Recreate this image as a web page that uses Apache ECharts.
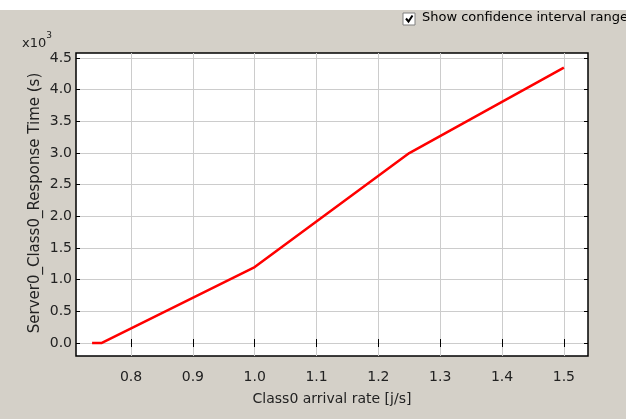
<!DOCTYPE html>
<html>
<head>
<meta charset="utf-8">
<script src="https://cdn.jsdelivr.net/npm/echarts@6/dist/echarts.min.js"></script>
<style>
  html, body { margin: 0; padding: 0; background: #fff; }
  #chart { width: 626px; height: 419px; }
</style>
</head>
<body>
<div id="chart"></div>
<script>
// arrival rate (j/s) and response time (x10^3 s)
var arrivalRate = [0.737, 0.752, 1.0, 1.25, 1.5];
var responseTime = [0.0, 0.0, 1.2, 3.0, 4.35];

// tick values
var xTicks = [0.8, 0.9, 1.0, 1.1, 1.2, 1.3, 1.4, 1.5];
var yTicks = [0.0, 0.5, 1.0, 1.5, 2.0, 2.5, 3.0, 3.5, 4.0, 4.5];

var xTitle = 'Class0 arrival rate [j/s]';
var yTitle = 'Server0_Class0_Response Time (s)';
var checkText = 'Show confidence interval range';

var xMin = 0.711, xMax = 1.539;
var yMin = -0.205, yMax = 4.58;

var points = arrivalRate.map(function (x, i) { return [x, responseTime[i]]; });

var myChart = echarts.init(document.getElementById('chart'));

var fontLbl = '"DejaVu Sans", Verdana, sans-serif';

function tickAxis(pos, lo, hi, ticks) {
    return {
        type: 'value', position: pos,
        min: lo, max: hi,
        axisLine: { show: false },
        axisTick: { show: true, inside: true, length: 4, customValues: ticks, lineStyle: { color: '#000' } },
        axisLabel: { show: false },
        splitLine: { show: false }
    };
}

option = {
    backgroundColor: '#ffffff',
    animation: false,
    graphic: [
        // gray panel under the white strip
        { type: 'rect', z: -10, shape: { x: 0, y: 10, width: 626, height: 409 }, style: { fill: '#D4D0C8' } },
        // checkbox
        { type: 'rect', shape: { x: 403, y: 13, width: 12, height: 12 }, style: { fill: '#fff', stroke: '#808080', lineWidth: 1 } },
        { type: 'polyline', shape: { points: [[406, 18.5], [408.5, 21.5], [412.5, 15.5]] }, style: { stroke: '#000', lineWidth: 2, fill: null } },
        { type: 'text', left: 422, top: 11, style: { text: checkText, fill: '#000', font: '13px "DejaVu Sans", Tahoma, sans-serif' } },
        // exponent
        { type: 'text', left: 22, top: 31, style: {
            text: '{a|x10}{b|3}',
            rich: {
                a: { fontSize: 13, fontFamily: fontLbl, fill: '#222', padding: [6, 0, 0, 0] },
                b: { fontSize: 9, fontFamily: fontLbl, fill: '#222', verticalAlign: 'top' }
            }
        } },
        // y axis title
        { type: 'text', x: 35, y: 203, rotation: Math.PI / 2, style: {
            text: yTitle, fill: '#222', font: '15px ' + fontLbl,
            align: 'center', verticalAlign: 'middle'
        } }
    ],
    grid: {
        left: 76, top: 53, right: 38, bottom: 63,
        show: true,
        backgroundColor: '#ffffff',
        borderColor: '#000',
        borderWidth: 1.5
    },
    xAxis: [{
        type: 'value',
        min: xMin, max: xMax,
        name: xTitle,
        nameLocation: 'middle',
        nameGap: 36,
        nameTextStyle: { fontSize: 14, fontFamily: fontLbl, color: '#222' },
        axisLine: { show: false },
        axisTick: { show: true, inside: true, length: 4, customValues: xTicks, lineStyle: { color: '#000' } },
        axisLabel: {
            fontSize: 14, fontFamily: fontLbl, color: '#222', margin: 14,
            customValues: xTicks,
            formatter: function (v) { return v.toFixed(1); }
        },
        splitLine: { show: true, lineStyle: { color: '#CCCCCC', width: 1 } }
    }, tickAxis('top', xMin, xMax, xTicks)],
    yAxis: [{
        type: 'value',
        min: yMin, max: yMax,
        axisLine: { show: false },
        axisTick: { show: true, inside: true, length: 4, customValues: yTicks, lineStyle: { color: '#000' } },
        axisLabel: {
            fontSize: 14, fontFamily: fontLbl, color: '#222', margin: 4,
            customValues: yTicks,
            padding: [6, 0, 0, 0],
            formatter: function (v) { return v.toFixed(1); }
        },
        splitLine: { show: true, lineStyle: { color: '#CCCCCC', width: 1 } }
    }, tickAxis('right', yMin, yMax, yTicks)],
    series: [{
        type: 'line',
        data: points,
        showSymbol: false,
        symbol: 'none',
        lineStyle: { color: '#FF0000', width: 2.5 },
        z: 5
    }]
};

myChart.setOption(option);
</script>
</body>
</html>
